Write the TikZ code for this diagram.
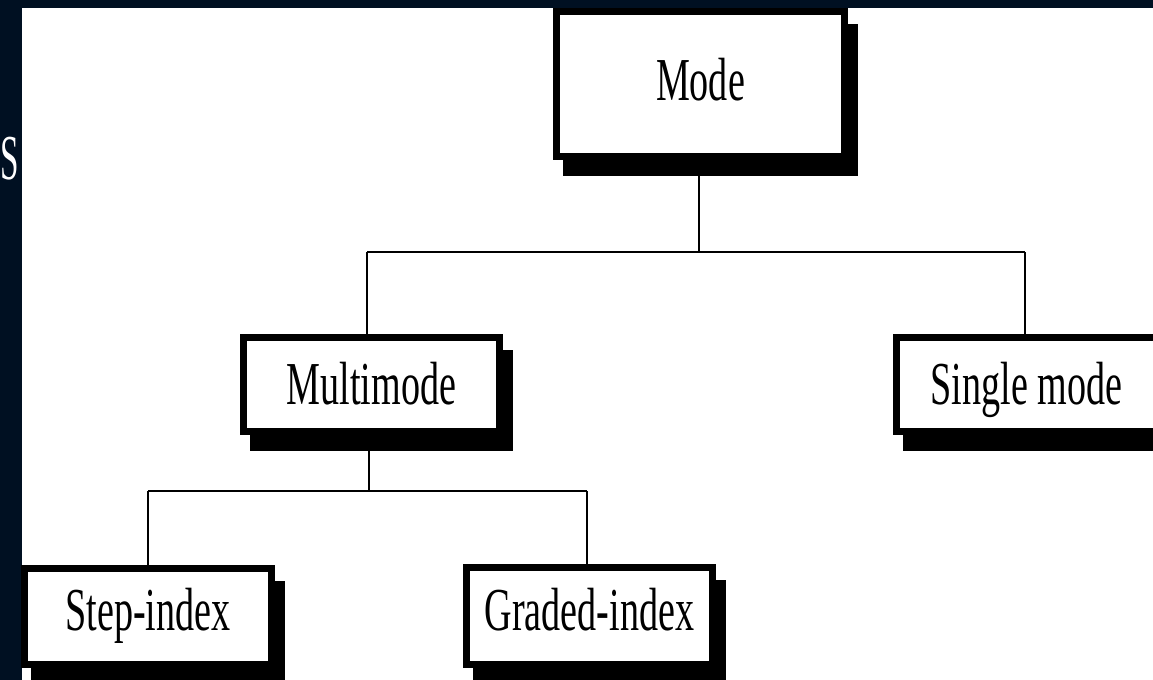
\documentclass[tikz,border=0pt]{standalone}
\usepackage{fontspec}
\usepackage{graphicx}
\setmainfont{Liberation Serif}
\usetikzlibrary{shadows,backgrounds}
\definecolor{navy}{HTML}{001022}
\tikzset{
  px/.style={x=0.5pt,y=-0.5pt},
  box/.style={draw=black, line width=3.5pt, fill=white, rectangle,
    inner sep=0pt, text height=20.4pt, text depth=0pt,
    font=\fontsize{30.5pt}{30.5pt}\selectfont,
    general shadow={fill=black, draw=black, line width=3.5pt,
      shadow xshift=5pt, shadow yshift=-8pt}},
  conn/.style={draw=black, line width=1.3pt},
}
\newcommand{\cnd}[1]{\scalebox{0.625}[1]{#1}}
\begin{document}
\begin{tikzpicture}[px]
\clip (0,0) rectangle (1153,680);
\useasboundingbox (0,0) rectangle (1153,680);
\node[box, text depth=4pt, minimum width=144pt, minimum height=72.5pt] (mode) at (700.5,84) {\cnd{Mode}};
\node[box, minimum width=128pt, minimum height=47pt] (multi) at (371.5,384.5) {\cnd{Multimode}};
\node[box, minimum width=130pt, minimum height=47pt] (single) at (1026.5,384.5) {\cnd{Single mode}};
\node[box, text depth=6pt, minimum width=123.5pt, minimum height=48pt] (step) at (148,616.5) {\cnd{Step-index}};
\node[box, text depth=6pt, minimum width=123pt, minimum height=48.5pt] (graded) at (589.5,616) {\cnd{Graded-index}};
\node[text=white, anchor=east, inner sep=0pt, font=\fontsize{32pt}{32pt}\selectfont] (s) at (19,159) {\scalebox{0.52}[1]{S}};
\begin{scope}[on background layer]
  \fill[navy] (0,0) rectangle (1153,680);
  \fill[white] (22,8) rectangle (1153,680);
\end{scope}
\begin{scope}[on background layer]
  \coordinate (b1) at (699,252);
  \coordinate (m1) at (367,252);
  \coordinate (s1) at (1025,252);
  \coordinate (b2) at (369,491);
  \coordinate (t1) at (148,491);
  \coordinate (g1) at (587,491);
  \draw[conn] (mode.south -| b1) -- (b1);
  \draw[conn] (m1) -- (s1);
  \draw[conn] (m1) -- (m1 |- multi.north);
  \draw[conn] (s1) -- (s1 |- single.north);
  \draw[conn] (multi.south -| b2) -- (b2);
  \draw[conn] (t1) -- (g1);
  \draw[conn] (t1) -- (t1 |- step.north);
  \draw[conn] (g1) -- (g1 |- graded.north);
\end{scope}
\end{tikzpicture}
\end{document}
